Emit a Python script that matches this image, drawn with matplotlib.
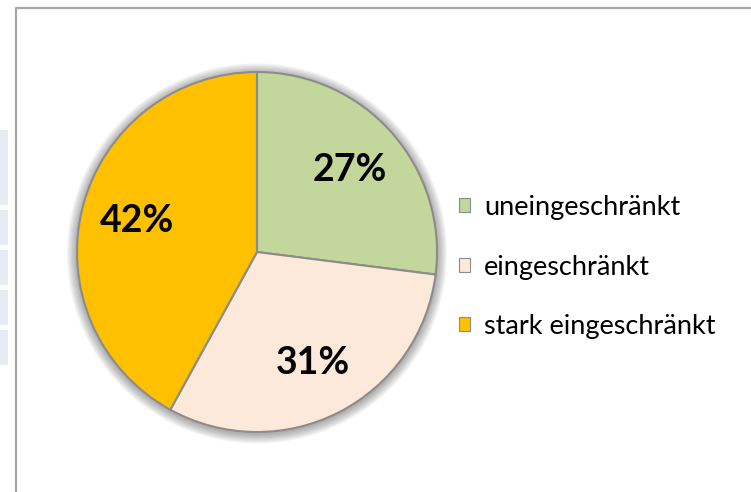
import numpy as np
import matplotlib
matplotlib.use('Agg')
import matplotlib.pyplot as plt
from matplotlib.patches import Patch, Circle, Rectangle
from matplotlib.lines import Line2D

# data
categories = ["uneingeschränkt", "eingeschränkt", "stark eingeschränkt"]
shares = [27, 31, 42]
colors = ["#C3D69B", "#FDE9D9", "#FFC000"]

W, H = 751, 492
fig = plt.figure(figsize=(W / 100, H / 100), dpi=100)
plt.rcParams['font.family'] = ['Lato', 'DejaVu Sans']

# spreadsheet frame
fig.add_artist(Line2D([16 / W, 16 / W, 1], [0, 1 - 8 / H, 1 - 8 / H],
                      transform=fig.transFigure, color="#A6A6A6", lw=1.6))
# cells peeking in at the left
for y0, y1 in [(130, 205), (210, 245), (250, 285), (290, 325), (330, 365)]:
    fig.add_artist(Rectangle((0, 1 - y1 / H), 8 / W, (y1 - y0) / H,
                             transform=fig.transFigure, color="#E6ECF5", lw=0))

cx, cy, r = 257, 252, 180
ax = fig.add_axes([(cx - r) / W, (H - cy - r) / H, 2 * r / W, 2 * r / H])

# soft shadow
for i in range(8):
    ax.add_patch(Circle((0.0, -0.008), 1.0 + 0.007 * (i + 1), color="black",
                        alpha=0.045, lw=0, zorder=0, clip_on=False))

wedges, texts, autotexts = ax.pie(
    shares, colors=colors, startangle=90, counterclock=False,
    autopct=lambda p: "%d%%" % round(p), pctdistance=0.69,
    wedgeprops=dict(edgecolor="#8C8C8C", linewidth=1.5),
    textprops=dict(fontsize=27, fontweight="bold", color="black"))
for w in wedges:
    w.set_zorder(2)
for t in autotexts:
    t.set_zorder(3)
ax.set_xlim(-1, 1)
ax.set_ylim(-1, 1)
ax.set_aspect('equal')
ax.axis('off')

handles = [Patch(facecolor=c, edgecolor="#8C8C8C", linewidth=0.8) for c in colors]
fig.legend(handles, categories, loc="center left",
           bbox_to_anchor=(459 / W, 1 - 267 / H), frameon=False,
           borderpad=0, borderaxespad=0,
           fontsize=19.5, handlelength=0.42, handleheight=0.42,
           handletextpad=0.5, labelspacing=1.27)

plt.savefig("out.png", dpi=100)
